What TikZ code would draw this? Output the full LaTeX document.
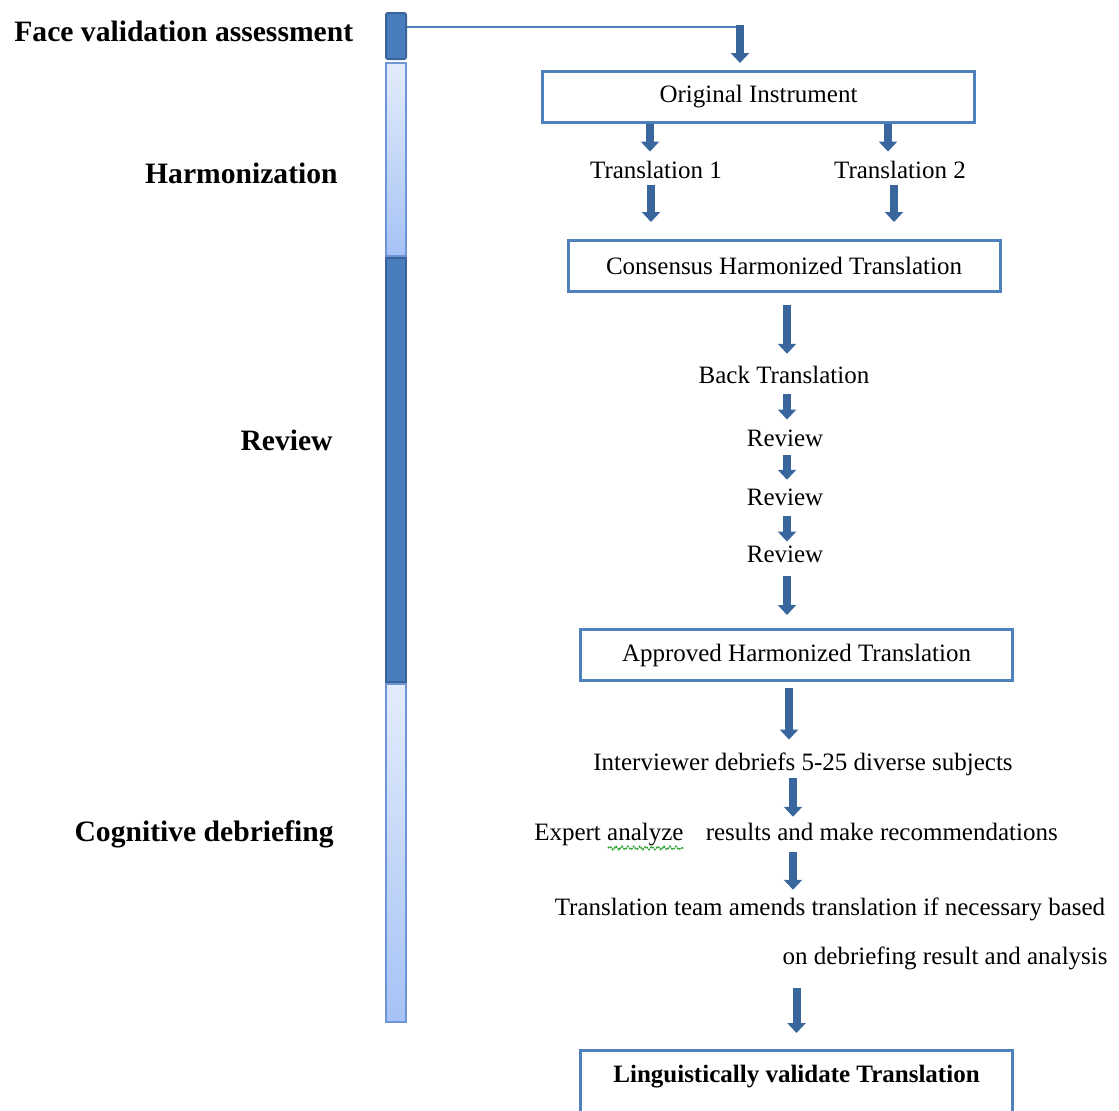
\documentclass[tikz,border=0pt]{standalone}
\usepackage{fontspec}
\setmainfont{Liberation Serif}
\usetikzlibrary{arrows.meta,decorations.pathmorphing}
\definecolor{boxblue}{RGB}{79,129,189}
\definecolor{arrowblue}{RGB}{58,102,158}
\definecolor{bardark}{RGB}{74,125,189}
\definecolor{bardarkline}{RGB}{58,100,155}
\definecolor{barlighttop}{RGB}{227,236,252}
\definecolor{barlightbot}{RGB}{166,194,246}
\definecolor{barlightline}{RGB}{110,150,215}
\definecolor{squig}{RGB}{50,160,50}
\begin{document}
\begin{tikzpicture}[x=0.5pt,y=-0.5pt,
 box/.style={draw=boxblue, line width=1.5pt, minimum width=216pt, minimum height=25.5pt, inner sep=0pt, font=\fontsize{12.5}{15}\selectfont},
 txt/.style={inner sep=0pt, text height=8.75pt, text depth=3.1pt, font=\fontsize{12.5}{15}\selectfont},
 side/.style={inner sep=0pt, font=\bfseries\fontsize{14.8}{17}\selectfont},
 bigarrow/.style={draw=arrowblue, line width=4pt, -{Triangle[width=9pt,length=5pt]}},
 darkseg/.style={draw=bardarkline, fill=bardark, line width=1pt, minimum width=10pt, inner sep=0pt},
 lightseg/.style={draw=barlightline, top color=barlighttop, bottom color=barlightbot, line width=1pt, minimum width=10pt, inner sep=0pt},
]
\useasboundingbox (0,0) rectangle (1119,1110);

% left bar
\node[lightseg, minimum height=96.5pt] (bar2) at (396,159.5) {};
\node[lightseg, minimum height=169pt] (bar4) at (396,853) {};
\node[darkseg, minimum height=23pt, rounded corners=1pt] (bar1) at (396,36) {};
\node[darkseg, minimum height=212pt] (bar3) at (396,470) {};

% side labels
\node[side, anchor=west] (lface) at (14,31) {Face validation assessment};
\node[side, anchor=east] (lharm) at (338,173) {Harmonization};
\node[side, anchor=east] (lrev) at (333,440) {Review};
\node[side, anchor=east] (lcog) at (334,834) {Cognitive debriefing};

% boxes and texts
\node[box] (orig) at (758.5,97) {Original Instrument};
\node[txt] (t1) at (656,173) {Translation 1};
\node[txt] (t2) at (900,173) {Translation 2};
\node[box] (cons) at (784,266) {Consensus Harmonized Translation};
\node[txt] (back) at (784,378) {Back Translation};
\node[txt] (rev1) at (785,441) {Review};
\node[txt] (rev2) at (785,500) {Review};
\node[txt] (rev3) at (785,557) {Review};
\node[box] (appr) at (796.5,655) {Approved Harmonized Translation};
\node[txt] (intv) at (803,765) {Interviewer debriefs 5-25 diverse subjects};
\node[txt] (exp) at (796,835) {Expert analyze\hspace{8pt} results and make recommendations};
\node[txt] (team1) at (830,910) {Translation team amends translation if necessary based};
\node[txt, anchor=east] (team2) at (1108,959) {on debriefing result and analysis};
\node[box, minimum height=36.5pt, anchor=north] (ling) at (796.5,1049) {};
\node[txt, font=\bfseries\fontsize{12.5}{15}\selectfont] (lingtxt) at (796.5,1077) {Linguistically validate Translation};

% spell-check squiggle
\draw[squig, line width=0.8pt, dash pattern=on 0.9pt off 0.5pt, decorate, decoration={snake, amplitude=0.8pt, segment length=3pt}] (608,848) -- (683,848);

% connectors
\coordinate (turn) at (740,27);
\draw[boxblue, line width=0.75pt] (bar1.east |- turn) -- (turn);
\draw[bigarrow, shorten >=3.5pt] ([yshift=1pt]turn) -- (turn |- orig.north);
\draw[bigarrow, shorten >=4.6pt] ([xshift=-3pt]t1.north |- orig.south) -- ([xshift=-3pt]t1.north);
\draw[bigarrow, shorten >=4.6pt] ([xshift=-6pt]t2.north |- orig.south) -- ([xshift=-6pt]t2.north);
\draw[bigarrow, shorten >=8.5pt] ([xshift=-2.5pt]t1.south) -- ([xshift=-2.5pt]t1.south |- cons.north);
\draw[bigarrow, shorten >=8.5pt] ([xshift=-3pt]t2.south) -- ([xshift=-3pt]t2.south |- cons.north);
\draw[bigarrow, shorten <=6pt, shorten >=6pt] ([xshift=1.5pt]cons.south) -- ([xshift=1.5pt]cons.south |- back.north);
\draw[bigarrow, shorten <=2pt, shorten >=4.6pt] ([xshift=1.5pt]back.south) -- ([xshift=1.5pt]back.south |- rev1.north);
\draw[bigarrow, shorten <=1pt, shorten >=4pt] ([xshift=1pt]rev1.south) -- ([xshift=1pt]rev1.south |- rev2.north);
\draw[bigarrow, shorten <=2pt, shorten >=1.6pt] ([xshift=1pt]rev2.south) -- ([xshift=1pt]rev2.south |- rev3.north);
\draw[bigarrow, shorten <=3.6pt, shorten >=6.5pt] ([xshift=1pt]rev3.south) -- ([xshift=1pt]rev3.south |- appr.north);
\draw[bigarrow, shorten <=3pt, shorten >=6.6pt] ([xshift=-3.75pt]appr.south) -- ([xshift=-3.75pt]appr.south |- intv.north);
\draw[bigarrow, shorten <=0.6pt, shorten >=3pt] ([xshift=-5pt]intv.south) -- ([xshift=-5pt]intv.south |- exp.north);
\draw[bigarrow, shorten <=2.6pt, shorten >=4pt] ([xshift=-1.5pt]exp.south) -- ([xshift=-1.5pt]exp.south |- team1.north);
\draw[bigarrow, shorten <=8.6pt, shorten >=8pt] (team2.south -| ling.north) -- (ling.north);
\end{tikzpicture}
\end{document}
